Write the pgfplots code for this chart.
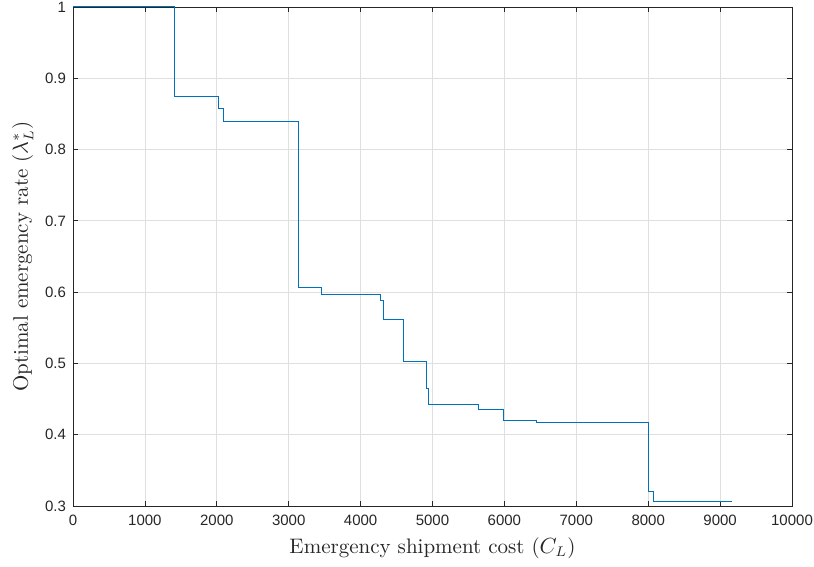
\documentclass[border=0pt]{standalone}
\usepackage{fontspec}
\setsansfont{Liberation Sans}
\usepackage{pgfplots}
\pgfplotsset{compat=1.18}
\usetikzlibrary{calc}
\definecolor{mblue}{HTML}{0072BD}
\definecolor{axgray}{RGB}{38,38,38}
\definecolor{gridgray}{RGB}{223,223,223}
\begin{document}
\begin{tikzpicture}
\begin{axis}[
  scale only axis,
  width=359.5pt, height=249.5pt,
  xmin=0, xmax=10000, ymin=0.3, ymax=1,
  xtick={0,1000,...,10000},
  ytick={0.3,0.4,0.5,0.6,0.7,0.8,0.9,1},
  yticklabels={0.3,0.4,0.5,0.6,0.7,0.8,0.9,1},
  scaled x ticks=false,
  /pgf/number format/.cd, set thousands separator={}, assume math mode=true, /pgfplots/.cd,
  ticklabel style={font=\fontsize{7.5}{9}\sffamily, text=axgray},
  tick align=inside,
  major tick length=2.5pt,
  tick style={axgray, line width=0.4pt},
  axis line style={axgray, line width=0.4pt},
  grid=major,
  major grid style={gridgray, line width=0.4pt},
  xlabel={Emergency shipment cost ($C_L$)},
  ylabel={Optimal emergency rate ($\lambda_L^*$)},
  label style={font=\fontsize{10.5}{12}\selectfont, text=axgray},
  xlabel style={yshift=1pt},
  ylabel style={yshift=-1pt},
  xticklabel style={yshift=-1pt},
]
\addplot[const plot, mblue, line width=0.5pt] coordinates {
(0,1) (1405,0.875) (2026,0.857) (2091,0.839) (3143,0.606) (3454,0.5965)
(4279,0.588) (4316,0.562) (4599,0.502) (4910,0.465) (4942,0.442)
(5637,0.436) (5981,0.420) (6444,0.4175) (8002,0.320) (8077,0.306) (9166,0.306)
};
\end{axis}
\pgfresetboundingbox
\path[use as bounding box] ($(current axis.south west)+(-36.5pt,-30.5pt)$) rectangle ($(current axis.north east)+(11pt,3.5pt)$);
\end{tikzpicture}
\end{document}
